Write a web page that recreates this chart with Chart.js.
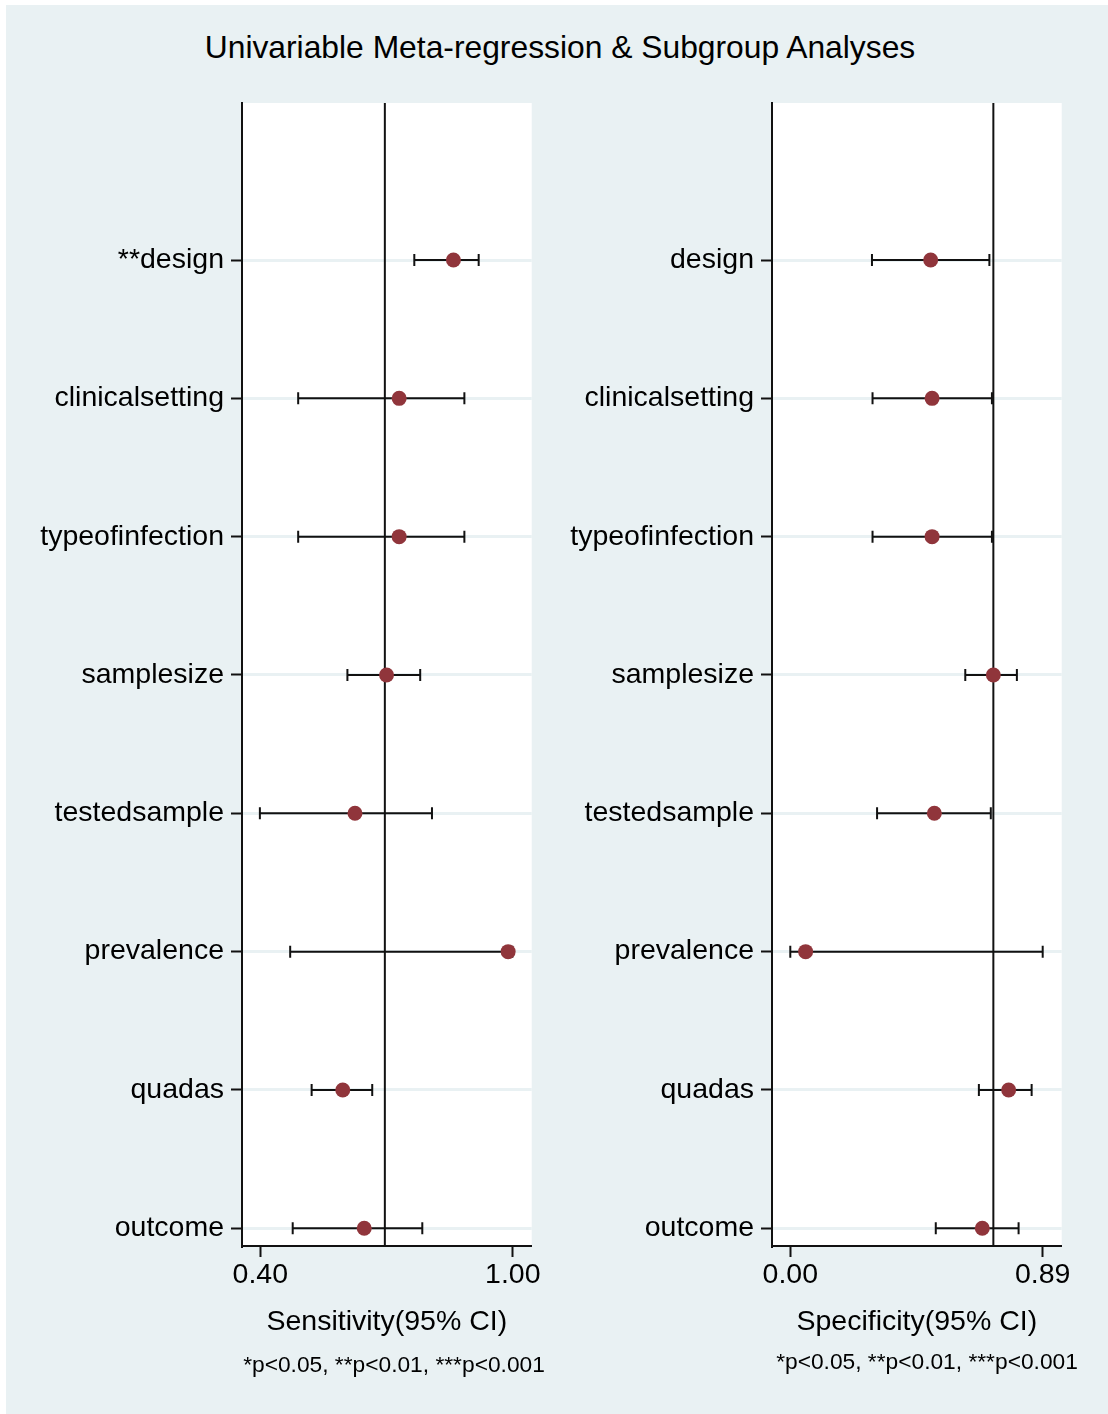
<!DOCTYPE html>
<html><head><meta charset="utf-8">
<script src="https://cdn.jsdelivr.net/npm/chart.js@4/dist/chart.umd.min.js"></script>
<style>
html,body{margin:0;padding:0;background:#fff;}
#page{position:relative;width:1108px;height:1414px;overflow:hidden;background:#fff;}
#bg{position:absolute;left:6px;top:5px;right:0;bottom:0;background:#e9f1f3;}
.txt{position:absolute;font-family:'Liberation Sans',Arial,Helvetica,sans-serif;color:#000;white-space:nowrap;text-align:center;}
#title{left:0;width:1120px;top:31px;font-size:31.8px;line-height:32px;}
#noteL{left:94px;width:600px;top:1353px;font-size:22.75px;line-height:23px;}
#noteR{left:627px;width:600px;top:1350px;font-size:22.75px;line-height:23px;}
canvas{position:absolute;top:0;}
#cL{left:0;}
#cR{left:560px;}
</style>
</head><body>
<div id="page">
  <div id="bg"></div>
  <div id="title" class="txt">Univariable Meta-regression &amp; Subgroup Analyses</div>
  <canvas id="cL" width="560" height="1414"></canvas>
  <canvas id="cR" width="548" height="1414"></canvas>
  <div id="noteL" class="txt">*p&lt;0.05, **p&lt;0.01, ***p&lt;0.001</div>
  <div id="noteR" class="txt">*p&lt;0.05, **p&lt;0.01, ***p&lt;0.001</div>
</div>
<script>
// ---- data (top row first) ----
const sensLabels = ['**design','clinicalsetting','typeofinfection','samplesize','testedsample','prevalence','quadas','outcome'];
const specLabels = ['design','clinicalsetting','typeofinfection','samplesize','testedsample','prevalence','quadas','outcome'];
const sensEst = [0.859, 0.730, 0.730, 0.700, 0.625, 0.989, 0.596, 0.647];
const sensLo  = [0.766, 0.490, 0.490, 0.607, 0.399, 0.471, 0.522, 0.477];
const sensHi  = [0.919, 0.885, 0.885, 0.780, 0.808, 0.999, 0.666, 0.785];
const sensPooled = 0.696;
const sensTicks = [0.40, 1.00];
const sensRange = [0.3565, 1.045];
const specEst = [0.495, 0.500, 0.500, 0.716, 0.508, 0.054, 0.770, 0.677];
const specLo  = [0.288, 0.290, 0.290, 0.617, 0.306, 0.000, 0.665, 0.513];
const specHi  = [0.702, 0.711, 0.711, 0.799, 0.707, 0.890, 0.851, 0.805];
const specPooled = 0.716;
const specTicks = [0.00, 0.89];
const specRange = [-0.0645, 0.957];
const rowRange = [0.872, 9.135];

const FONT_FAMILY = "'Liberation Sans', Arial, Helvetica, sans-serif";
const INK = '#111111';
const DOT = '#90353b';

const plotBg = {
  id: 'plotBg',
  beforeDraw(chart) {
    const a = chart.chartArea, ctx = chart.ctx;
    ctx.save(); ctx.fillStyle = '#ffffff';
    ctx.fillRect(a.left, a.top, a.right - a.left, a.bottom - a.top);
    ctx.restore();
  }
};

function makeChart(canvasId, labels, est, lo, hi, pooled, ticks, range, axisTitle, yWidth, padRight) {
  const n = labels.length;
  const rowY = i => n - i;
  const font = {family: FONT_FAMILY, size: 28.5};
  const datasets = [];
  datasets.push({
    data: est.map((v, i) => ({x: v, y: rowY(i)})),
    showLine: false, pointRadius: 7.5, pointHoverRadius: 7.5,
    pointBackgroundColor: DOT, pointBorderWidth: 0, pointBorderColor: DOT
  });
  lo.forEach((v, i) => {
    datasets.push({
      data: [{x: lo[i], y: rowY(i)}, {x: hi[i], y: rowY(i)}],
      showLine: true, borderColor: INK, borderWidth: 2,
      pointStyle: 'line', rotation: 90, pointRadius: 6, pointHoverRadius: 6,
      pointBorderColor: INK, pointBorderWidth: 2, pointBackgroundColor: INK
    });
  });
  datasets.push({
    data: [{x: pooled, y: rowRange[0]}, {x: pooled, y: rowRange[1]}],
    showLine: true, borderColor: INK, borderWidth: 2, pointRadius: 0, pointHoverRadius: 0
  });
  return new Chart(document.getElementById(canvasId), {
    type: 'scatter',
    data: {datasets},
    options: {
      responsive: false, animation: false, events: [],
      layout: {padding: {top: 103, left: 0, right: padRight, bottom: 0}},
      plugins: {legend: {display: false}, tooltip: {enabled: false}},
      scales: {
        x: {
          type: 'linear', min: range[0], max: range[1],
          afterBuildTicks: s => { s.ticks = ticks.map(v => ({value: v})); },
          afterFit: s => { s.height = 168; },
          ticks: {callback: v => Number(v).toFixed(2), font, color: '#000', padding: 1, autoSkip: false, maxRotation: 0},
          grid: {drawOnChartArea: false, drawTicks: true, tickLength: 11, tickColor: INK, tickWidth: 2},
          border: {display: true, color: INK, width: 2},
          title: {display: true, text: axisTitle, font, color: '#000', padding: {top: 0, bottom: 75}}
        },
        y: {
          type: 'linear', min: rowRange[0], max: rowRange[1],
          afterBuildTicks: s => { s.ticks = labels.map((l, i) => ({value: rowY(i)})); },
          afterFit: s => { s.width = yWidth; },
          ticks: {callback: v => labels[n - Math.round(v)], font, color: '#000', padding: 7, autoSkip: false},
          grid: {color: '#e9f1f3', lineWidth: 3, drawOnChartArea: true, tickLength: 11, tickColor: INK, tickWidth: 2},
          border: {display: true, color: INK, width: 2}
        }
      }
    },
    plugins: [plotBg]
  });
}

makeChart('cL', sensLabels, sensEst, sensLo, sensHi, sensPooled, sensTicks, sensRange, 'Sensitivity(95% CI)', 242, 28.3);
makeChart('cR', specLabels, specEst, specLo, specHi, specPooled, specTicks, specRange, 'Specificity(95% CI)', 212, 46.3);
</script>
</body></html>
